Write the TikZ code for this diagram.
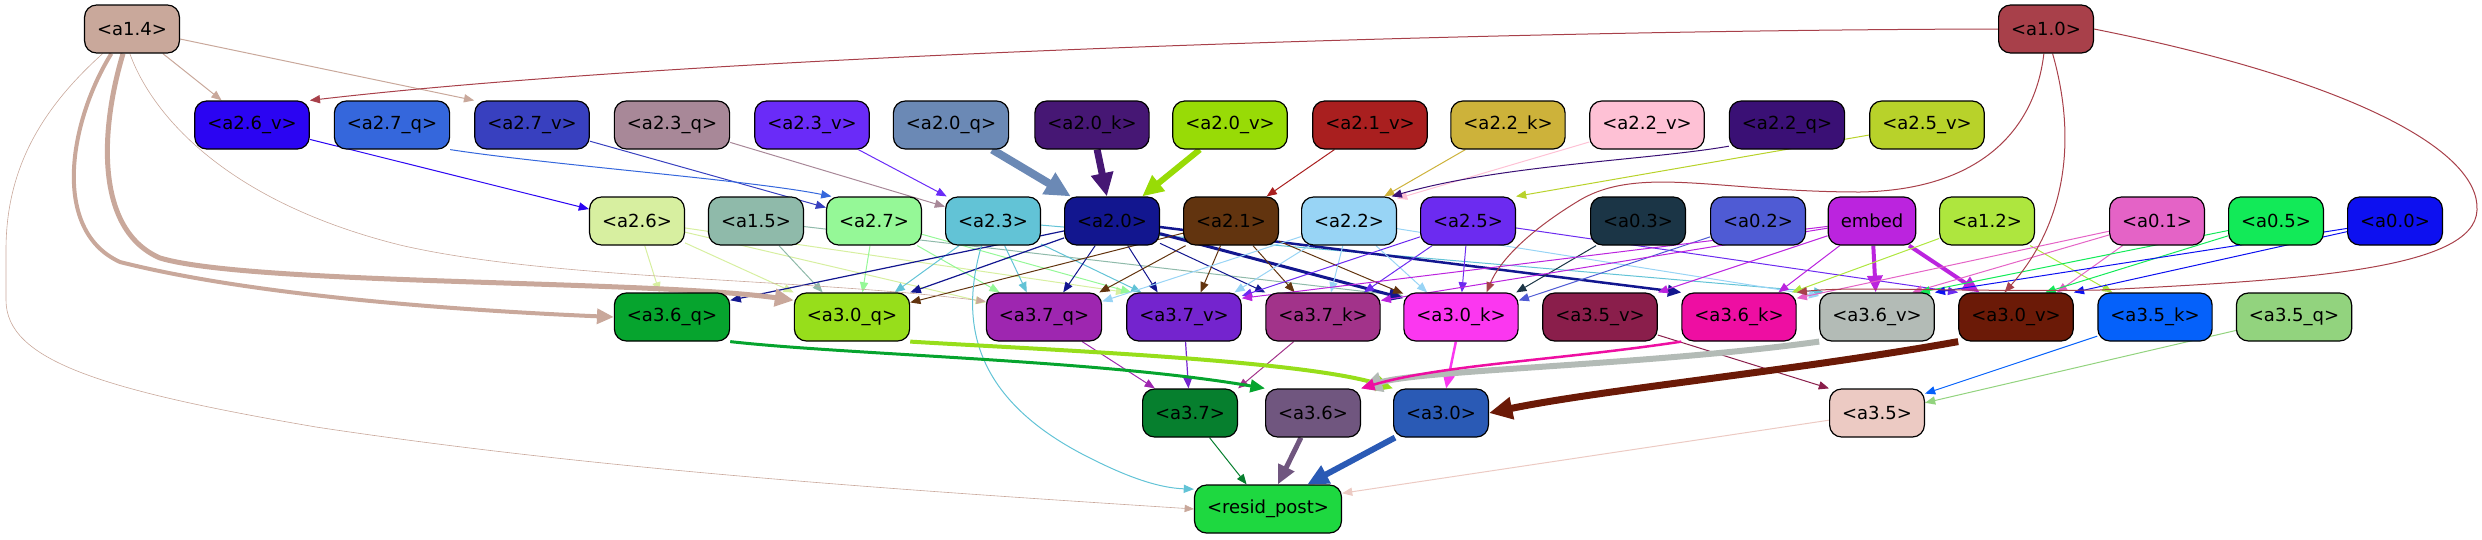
\documentclass[tikz,border=0pt]{standalone}
\usepackage{fontspec}
\setmainfont{DejaVu Sans}
\usetikzlibrary{arrows.meta,backgrounds}

\definecolor{ca14}{HTML}{C9A89B}
\definecolor{ca10}{HTML}{A8404A}
\definecolor{ca26v}{HTML}{2B04F2}
\definecolor{ca27q}{HTML}{3567DC}
\definecolor{ca27v}{HTML}{3840BF}
\definecolor{ca23q}{HTML}{A88898}
\definecolor{ca23v}{HTML}{6A2BF8}
\definecolor{ca20q}{HTML}{6B89B5}
\definecolor{ca20k}{HTML}{461774}
\definecolor{ca20v}{HTML}{98DB06}
\definecolor{ca21v}{HTML}{A91F1F}
\definecolor{ca22k}{HTML}{CDB23A}
\definecolor{ca22v}{HTML}{FEC1D5}
\definecolor{ca22q}{HTML}{3A1075}
\definecolor{ca25v}{HTML}{B8D22A}
\definecolor{ca26}{HTML}{D7EFA0}
\definecolor{ca15}{HTML}{8FBAAA}
\definecolor{ca27}{HTML}{95F897}
\definecolor{ca23}{HTML}{62C3D6}
\definecolor{ca20}{HTML}{12168F}
\definecolor{ca21}{HTML}{62340F}
\definecolor{ca22}{HTML}{98D4F5}
\definecolor{ca25}{HTML}{6C2BF0}
\definecolor{ca03}{HTML}{1B3546}
\definecolor{ca02}{HTML}{4F5BD4}
\definecolor{cembed}{HTML}{BB24DE}
\definecolor{ca12}{HTML}{AEE63E}
\definecolor{ca01}{HTML}{E463C6}
\definecolor{ca05}{HTML}{12EA58}
\definecolor{ca00}{HTML}{0D10F0}
\definecolor{ca36q}{HTML}{06A42E}
\definecolor{ca30q}{HTML}{97DE1B}
\definecolor{ca37q}{HTML}{9E26B0}
\definecolor{ca37v}{HTML}{7424CE}
\definecolor{ca37k}{HTML}{A2338A}
\definecolor{ca30k}{HTML}{FB37F0}
\definecolor{ca35v}{HTML}{8A1E4B}
\definecolor{ca36k}{HTML}{EE0EA2}
\definecolor{ca36v}{HTML}{B3BBB6}
\definecolor{ca30v}{HTML}{6B1A07}
\definecolor{ca35k}{HTML}{0561FA}
\definecolor{ca35q}{HTML}{92D37E}
\definecolor{ca37}{HTML}{067F2E}
\definecolor{ca36}{HTML}{70567F}
\definecolor{ca30}{HTML}{2A5AB5}
\definecolor{ca35}{HTML}{ECCAC3}
\definecolor{cresid}{HTML}{1ED840}

\begin{document}
\begin{tikzpicture}[x=1pt,y=-1pt,
  box/.style={draw=black, line width=1.2pt, rounded corners=12pt, minimum height=48pt,
    inner xsep=12.5pt, inner ysep=0pt, font=\fontsize{18}{21}\selectfont},
  ed/.style={-{Triangle[length=8pt 2.2,width=6pt 2.2]}, line width=1pt}]

\useasboundingbox (0,0) rectangle (2482,539);

% the nodes, row by row
\foreach \nm/\lb/\x in {a14/{<a1.4>}/132, a10/{<a1.0>}/2046}
  \node[box, fill=c\nm] (\nm) at (\x,29) {\lb};

\foreach \nm/\lb/\x in {a26v/{<a2.6\_v>}/252, a27q/{<a2.7\_q>}/392, a27v/{<a2.7\_v>}/532,
  a23q/{<a2.3\_q>}/672, a23v/{<a2.3\_v>}/812, a20q/{<a2.0\_q>}/951, a20k/{<a2.0\_k>}/1092,
  a20v/{<a2.0\_v>}/1230, a21v/{<a2.1\_v>}/1370, a22k/{<a2.2\_k>}/1508, a22v/{<a2.2\_v>}/1647,
  a22q/{<a2.2\_q>}/1787, a25v/{<a2.5\_v>}/1927}
  \node[box, fill=c\nm] (\nm) at (\x,125) {\lb};

\foreach \nm/\lb/\x in {a26/{<a2.6>}/637, a15/{<a1.5>}/756, a27/{<a2.7>}/874, a23/{<a2.3>}/993,
  a20/{<a2.0>}/1112, a21/{<a2.1>}/1231, a22/{<a2.2>}/1349, a25/{<a2.5>}/1468, a03/{<a0.3>}/1638,
  a02/{<a0.2>}/1758, embed/{embed}/1872, a12/{<a1.2>}/1987, a01/{<a0.1>}/2157,
  a05/{<a0.5>}/2276, a00/{<a0.0>}/2395}
  \node[box, fill=c\nm] (\nm) at (\x,221) {\lb};

\foreach \nm/\lb/\x in {a36q/{<a3.6\_q>}/672, a30q/{<a3.0\_q>}/852, a37q/{<a3.7\_q>}/1044,
  a37v/{<a3.7\_v>}/1184, a37k/{<a3.7\_k>}/1323, a30k/{<a3.0\_k>}/1461, a35v/{<a3.5\_v>}/1600,
  a36k/{<a3.6\_k>}/1739, a36v/{<a3.6\_v>}/1877, a30v/{<a3.0\_v>}/2016, a35k/{<a3.5\_k>}/2155,
  a35q/{<a3.5\_q>}/2294}
  \node[box, fill=c\nm] (\nm) at (\x,317) {\lb};

\foreach \nm/\lb/\x in {a37/{<a3.7>}/1190, a36/{<a3.6>}/1313, a30/{<a3.0>}/1441, a35/{<a3.5>}/1877}
  \node[box, fill=c\nm] (\nm) at (\x,413) {\lb};

\node[box, fill=cresid] (resid) at (1268,509) {<resid\_post>};

\begin{scope}[on background layer]
% straight connectors: source/target/width
\foreach \s/\t/\w in {
  a26v/a26/1, a27v/a27/1, a23q/a23/1, a23v/a23/1, a20q/a20/8, a20k/a20/7, a20v/a20/6,
  a21v/a21/1, a22k/a22.35/1, a22v/a22.25/1, a25v/a25.north east/1,
  a26/a36q.117/1, a26/a30q.north west/1, a26/a37q.166/1, a26/a37v.north west/1,
  a15/a30q.140/1, a15/a30k.160/1,
  a27/a30q.67/1, a27/a37q.151/1, a27/a37v.155/1,
  a23/a30q.30/1, a23/a37q.125/1, a23/a37v.150/1, a23/a36v.155/1,
  a20/a36q.16/1.2, a20/a30q.north east/1.2, a20/a37q.52/1, a20/a37v.137/1,
  a20/a37k.north west/1, a20/a30k.162/3, a20/a36k.north west/2.5,
  a21/a30q.14/1, a21/a37q.24/1, a21/a37v.56/1, a21/a37k.139/1, a21/a30k.158/1,
  a22/a37q.15/1, a22/a37v.26/1, a22/a37k.72/1, a22/a30k.144/1, a22/a36v.160/1,
  a25/a37v.20/1, a25/a37k.31/1, a25/a30k.88/1, a25/a30v.north west/1,
  a03/a30k.24/1, a02/a30k.16/1,
  embed/a37v.18/1, embed/a37k.16/1, embed/a35v.north east/1, embed/a36k.32/1,
  embed/a36v/4, embed/a30v.146/4,
  a12/a36k.25/1, a12/a35k.150/1, a01/a36k.18/1, a01/a30v.31/1, a01/a36v.35/1,
  a05/a36v.30/1, a05/a30v.40/1, a00/a36v.north east/1, a00/a30v.north east/1,
  a37q/a37.145/1, a37v/a37/1.2, a37k/a37.north east/1, a30k/a30/2.5,
  a35v/a35.north west/1, a35k/a35.22/1, a35q/a35.12/1,
  a37/resid.131/1, a36/resid.68/5, a30/resid.32/6, a35/resid.12/1}
  \draw[ed, color=c\s, line width=\w pt] (\s) -- (\t);

% the bent ones
\draw[ed, color=ca14] (a14) -- (a26v.141);
\draw[ed, color=ca14] (a14) -- (a27v.north west);
\draw[ed, color=ca14, line width=4pt] (a14.230) .. controls (70,120) and (50,230) .. (120,262)
  .. controls (250,295) and (450,310) .. (a36q.west);
\draw[ed, color=ca14, line width=5pt] (a14.250) .. controls (100,130) and (95,230) .. (160,258)
  .. controls (250,285) and (650,280) .. (a30q.164);
\draw[ed, color=ca14, line width=0.6pt] (a14.265) .. controls (150,110) and (220,200) .. (400,245)
  .. controls (550,280) and (800,278) .. (a37q.165);
\draw[ed, color=ca14, line width=0.6pt] (a14.220) .. controls (40,110) and (6,170) .. (6,250)
  -- (6,300) .. controls (6,360) and (100,390) .. (316,427)
  .. controls (600,470) and (900,490) .. (resid.west);
\draw[ed, color=ca10] (a10.west) .. controls (1500,30) and (700,55) .. (a26v.north east);
\draw[ed, color=ca10] (a10.265) .. controls (2035,130) and (1980,190) .. (1860,192)
  .. controls (1720,192) and (1640,165) .. (1580,200) .. controls (1530,230) and (1500,260) .. (a30k.44);
\draw[ed, color=ca10] (a10.285) .. controls (2080,150) and (2060,230) .. (a30v.115);
\draw[ed, color=ca10] (a10.east) .. controls (2350,80) and (2480,150) .. (2477,210)
  .. controls (2475,270) and (2300,280) .. (2100,290) .. controls (1950,292) and (1850,286) .. (a36k.north east);
\draw[ed, color=ca27q] (a27q.south east) .. controls (550,165) and (750,180) .. (a27.150);
\draw[ed, color=ca22q] (a22q.200) .. controls (1650,160) and (1500,165) .. (a22.30);
\draw[ed, color=ca23] (a23.245) .. controls (960,320) and (970,400) .. (1094,460)
  .. controls (1130,478) and (1160,488) .. (resid.165);
\draw[ed, color=ca36q, line width=3pt] (a36q.south east) .. controls (850,355) and (1100,360) .. (a36.north west);
\draw[ed, color=ca30q, line width=4pt] (a30q.south east) .. controls (1050,350) and (1300,360) .. (a30.north west);
\draw[ed, color=ca36v, line width=6pt] (a36v.south west) .. controls (1650,365) and (1420,370) .. (a36.north east);
\draw[ed, color=ca36k, line width=2.5pt] (a36k.south west) .. controls (1560,360) and (1440,365) .. (a36.north east);
\draw[ed, color=ca30v, line width=7pt] (a30v.south west) .. controls (1800,370) and (1600,390) .. (a30.east);
\end{scope}
\end{tikzpicture}
\end{document}
